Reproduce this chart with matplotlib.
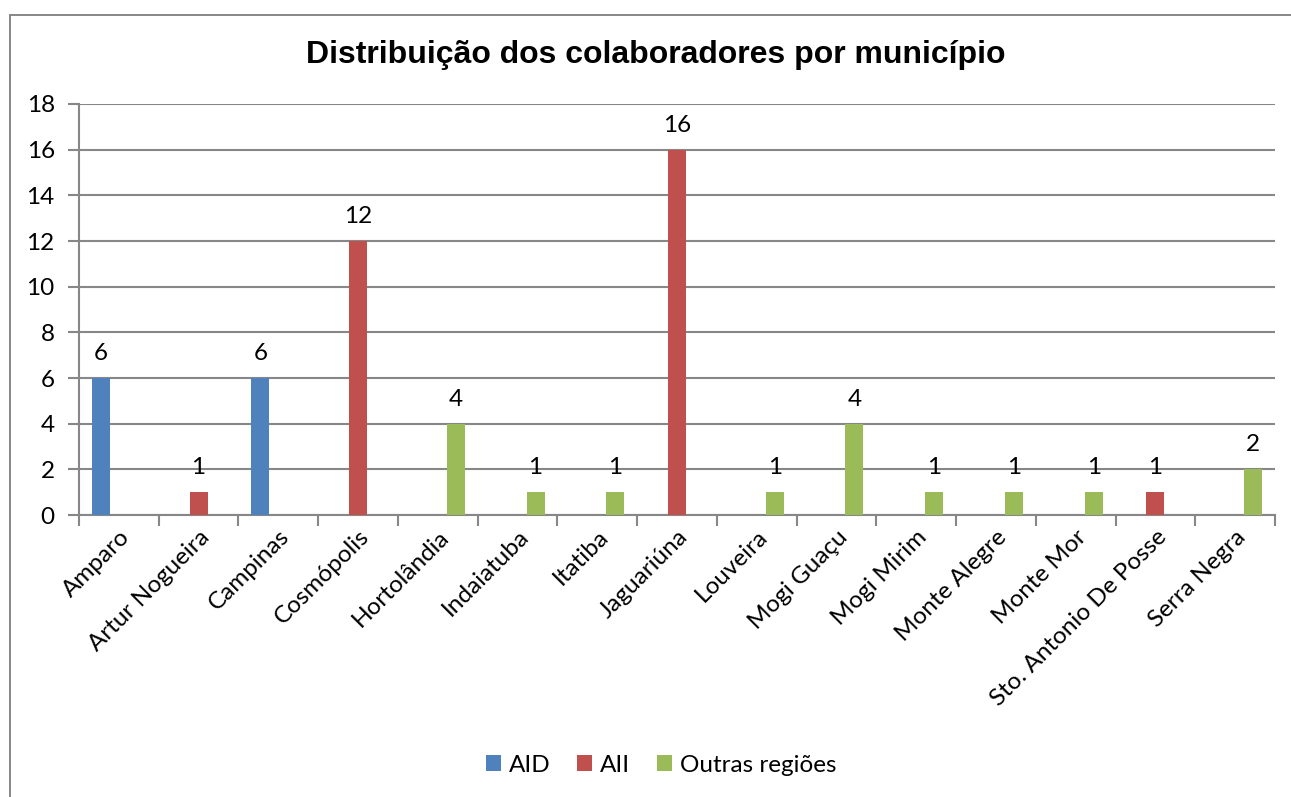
import numpy as np
import matplotlib.pyplot as plt
from matplotlib.patches import Rectangle

municipios = ['Amparo', 'Artur Nogueira', 'Campinas', 'Cosmópolis', 'Hortolândia',
              'Indaiatuba', 'Itatiba', 'Jaguariúna', 'Louveira', 'Mogi Guaçu',
              'Mogi Mirim', 'Monte Alegre', 'Monte Mor', 'Sto. Antonio De Posse',
              'Serra Negra']
n = np.nan
aid = [6, n, 6, n, n, n, n, n, n, n, n, n, n, n, n]
aii = [n, 1, n, 12, n, n, n, 16, n, n, n, n, n, 1, n]
outras = [n, n, n, n, 4, 1, 1, n, 1, 4, 1, 1, 1, n, 2]

series = [('AID', aid, '#4F81BD'), ('AII', aii, '#C0504D'), ('Outras regiões', outras, '#9BBB59')]

plt.rcParams['font.family'] = ['Lato', 'DejaVu Sans']
grid_cor = '#878787'
fs = 17.5

fig = plt.figure(figsize=(12.91, 7.97), dpi=100)
ax = fig.add_axes([79 / 1291, 1 - 515 / 797, (1275 - 79) / 1291, (515 - 104) / 797])

# moldura do gráfico (cortada à direita e embaixo)
fig.patches.append(Rectangle((10 / 1291, -0.1), 1.2, 1.1 - 15 / 797, transform=fig.transFigure,
                             fill=False, edgecolor=grid_cor, linewidth=1.4))

x = np.arange(len(municipios))
w = 0.226
for i, (nome, vals, cor) in enumerate(series):
    pos = x + (i - 1) * w
    ax.bar(pos, vals, width=w, color=cor, label=nome, zorder=3)
    for p, v in zip(pos, vals):
        if not np.isnan(v):
            ax.text(p, v + 0.62, f'{v:g}', ha='center', va='bottom', fontsize=fs, color='black')

ax.set_xlim(-0.5, len(municipios) - 0.5)
ax.set_ylim(0, 18)
ax.set_yticks(range(0, 19, 2))
ax.yaxis.grid(True, color=grid_cor, linewidth=1.5, zorder=0)
ax.set_xticks(np.arange(len(municipios) + 1) - 0.5, minor=True)
ax.set_xticks(x)
ax.set_xticklabels(municipios, rotation=45, ha='right', rotation_mode='anchor', fontsize=fs)
ax.tick_params(axis='x', which='major', length=0, pad=8)
ax.tick_params(axis='x', which='minor', length=8, width=1.5, color=grid_cor)
ax.tick_params(axis='y', length=8, width=1.5, color=grid_cor, labelsize=fs, pad=9.5)
for s in ['top', 'right']:
    ax.spines[s].set_visible(False)
for s in ['left', 'bottom']:
    ax.spines[s].set_color(grid_cor)
    ax.spines[s].set_linewidth(1.5)

fig.suptitle('Distribuição dos colaboradores por município', x=656 / 1291, y=1 - 55 / 797,
             va='center', fontsize=23, fontweight='bold', family='Liberation Sans')

fig.legend(loc='center', bbox_to_anchor=(661 / 1291, 1 - 765 / 797), ncol=3, frameon=False,
           fontsize=fs, handlelength=0.62, handleheight=0.62, handletextpad=0.33,
           columnspacing=1.1)

fig.savefig('out.png', dpi=100)
